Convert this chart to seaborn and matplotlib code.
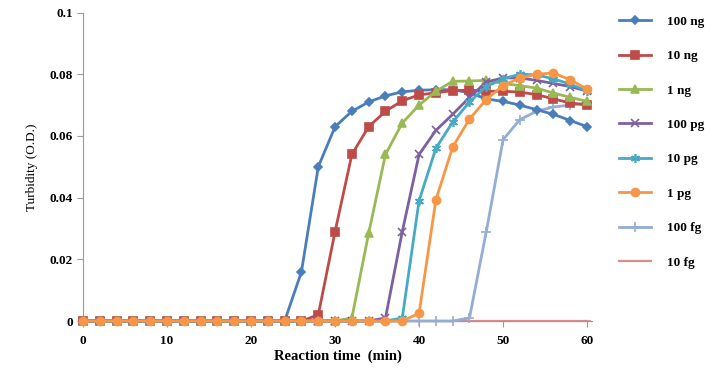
import matplotlib
matplotlib.use("Agg")
import matplotlib.pyplot as plt
import seaborn as sns

# reaction time (min), one reading every 2 min
time_min = list(range(0, 61, 2))

labels = ["100 ng", "10 ng", "1 ng", "100 pg", "10 pg", "1 pg", "100 fg", "10 fg"]

od_100ng = [0] * 13 + [0.016, 0.050, 0.063, 0.068, 0.071, 0.073, 0.0743, 0.0748, 0.075,
                       0.075, 0.074, 0.072, 0.0712, 0.070, 0.0685, 0.067, 0.065, 0.063]
od_10ng = [0] * 14 + [0.002, 0.029, 0.054, 0.063, 0.068, 0.0714, 0.0733, 0.074, 0.0747,
                      0.0748, 0.0745, 0.0745, 0.0742, 0.0734, 0.072, 0.0707, 0.070]
od_1ng = [0] * 16 + [0.001, 0.0285, 0.054, 0.0642, 0.070, 0.0745, 0.0777, 0.0778, 0.078,
                     0.077, 0.0763, 0.0755, 0.0739, 0.0725, 0.0712]
od_100pg = [0] * 18 + [0.001, 0.029, 0.054, 0.0618, 0.067, 0.0725, 0.0775, 0.0788, 0.0788,
                       0.078, 0.077, 0.076, 0.0745]
od_10pg = [0] * 19 + [0.001, 0.039, 0.056, 0.0645, 0.071, 0.076, 0.0785, 0.080, 0.0798,
                      0.0785, 0.0768, 0.0745]
od_1pg = [0] * 20 + [0.0025, 0.0393, 0.0564, 0.0655, 0.0718, 0.0763, 0.0788, 0.080, 0.0804,
                     0.0782, 0.0752]
od_100fg = [0] * 23 + [0.001, 0.029, 0.0588, 0.0653, 0.068, 0.0694, 0.070, 0.0707]
od_10fg = [0] * 31

series = [od_100ng, od_10ng, od_1ng, od_100pg, od_10pg, od_1pg, od_100fg, od_10fg]
colors = ["#4A7EBB", "#BE4B48", "#98B954", "#7D60A0", "#46AAC5", "#F79646", "#93ADD5", "#DA8E8C"]
markers = ["D", "s", "^", "x", (6, 2, 0), "o", "+", "_"]
msizes = [4.2, 5.2, 5.8, 5.8, 6.5, 5.8, 7.5, 6.0]
widths = [2, 2, 2, 2, 2, 2, 2, 1.6]
# the late traces sit under the others on the shared zero baseline
zorders = [3.0, 3.1, 3.2, 3.3, 3.4, 3.5, 2.6, 2.5]

fig = plt.figure(figsize=(7.16, 3.69), dpi=100)
ax = fig.add_axes([0.116, 0.130, 0.711, 0.836])

for vals, lab, c, m, ms, lw, z in zip(series, labels, colors, markers, msizes, widths, zorders):
    sns.lineplot(x=time_min, y=vals, ax=ax, color=c, marker=m, markersize=ms,
                 markeredgecolor=c, markerfacecolor=c, markeredgewidth=1.2,
                 linewidth=lw, label=lab, zorder=z, clip_on=False)

ax.set_xlim(0, 60.6)
ax.set_ylim(0, 0.1)
ax.set_xticks([0, 10, 20, 30, 40, 50, 60])
ax.set_yticks([0, 0.02, 0.04, 0.06, 0.08, 0.1])
ax.set_yticklabels(["0", "0.02", "0.04", "0.06", "0.08", "0.1"])

for side in ["top", "right"]:
    ax.spines[side].set_visible(False)
for side in ["left", "bottom"]:
    ax.spines[side].set_color("#9a9a9a")
ax.tick_params(axis="both", colors="#9a9a9a", length=4, labelcolor="black")
ax.tick_params(axis="x", pad=6)

for t in ax.get_xticklabels() + ax.get_yticklabels():
    t.set_fontfamily("Liberation Serif")
    t.set_fontweight("bold")
    t.set_fontsize(9.5)

ax.set_xlabel("Reaction time  (min)", family="Liberation Serif", fontweight="bold",
              fontsize=10.5, labelpad=2)
ax.set_ylabel("Turbidity (O.D.)", family="Liberation Serif", fontsize=9.5, labelpad=8)

leg = ax.legend(loc="upper left", bbox_to_anchor=(0.848, 0.99), bbox_transform=fig.transFigure,
                frameon=False, labelspacing=1.68, handlelength=2.4, handletextpad=1.2,
                prop={"family": "Liberation Serif", "weight": "bold", "size": 9.5})

fig.savefig("out.png", dpi=100)
